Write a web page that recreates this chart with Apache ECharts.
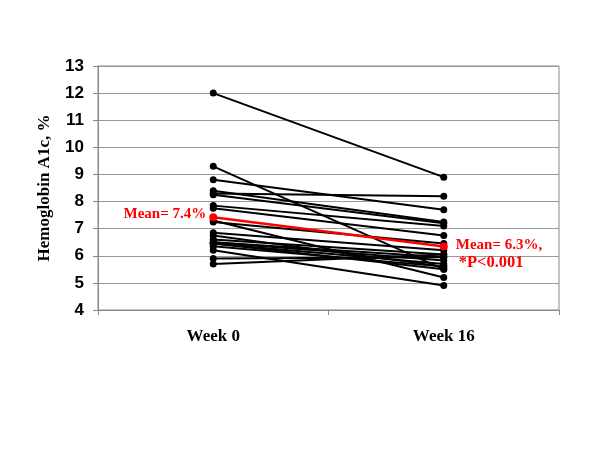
<!DOCTYPE html>
<html>
<head>
<meta charset="utf-8">
<script src="https://cdn.jsdelivr.net/npm/echarts@6/dist/echarts.min.js"></script>
<style>html,body{margin:0;padding:0;background:#fff}#c{width:600px;height:450px}</style>
</head>
<body>
<div id="c"></div>
<script>
const categories = ['Week 0', 'Week 16'];
const week0  = [12.0, 9.3, 8.8, 8.4, 8.3, 8.25, 7.85, 7.75, 7.3, 7.25, 6.85, 6.75, 6.6, 6.5, 6.5, 6.45, 6.45, 6.35, 6.2, 5.9, 5.7];
const week16 = [8.9, 5.5, 7.7, 7.25, 8.2, 7.2, 7.1, 6.75, 5.2, 6.45, 6.2, 5.6, 6.05, 5.83, 5.95, 5.7, 5.5, 5.6, 4.9, 5.95, 6.05];
const meanValues = [7.42, 6.34];
const meanLabels = ['Mean= 7.4%', '{a|Mean= 6.3%,}\n{b|*P<0.001}'];
const yTicks = [4, 5, 6, 7, 8, 9, 10, 11, 12, 13];

const chart = echarts.init(document.getElementById('c'), null, {renderer: 'canvas'});
const series = week0.map((v, i) => ({
  type: 'line',
  data: [v, week16[i]],
  symbol: 'circle',
  symbolSize: 7,
  lineStyle: {color: '#000', width: 2},
  itemStyle: {color: '#000'},
  silent: true,
  animation: false,
  z: 2
}));
const redText = {color: '#ff0000', fontFamily: 'Liberation Serif', fontWeight: 'bold'};
series.push({
  type: 'line',
  data: [
    {value: meanValues[0], label: {show: true, position: 'left', distance: 3, offset: [0, -3], formatter: meanLabels[0], fontSize: 15}},
    {value: meanValues[1], label: {show: true, position: 'right', distance: 8, offset: [0, 7.5], formatter: meanLabels[1],
      rich: {
        a: Object.assign({fontSize: 15, lineHeight: 18}, redText),
        b: Object.assign({fontSize: 16.5, lineHeight: 18, padding: [0, 0, 0, 3]}, redText)
      }}}
  ],
  symbol: 'circle',
  symbolSize: 8,
  lineStyle: {color: '#ff0000', width: 2.5},
  itemStyle: {color: '#ff0000'},
  label: Object.assign({fontSize: 15}, redText),
  animation: false,
  z: 5
});

chart.setOption({
  animation: false,
  grid: {left: 98, right: 41, top: 66, bottom: 140, show: true, borderColor: '#888', borderWidth: 1},
  xAxis: {
    type: 'category',
    data: categories,
    boundaryGap: true,
    axisLine: {lineStyle: {color: '#888', width: 1}},
    axisTick: {show: true, alignWithLabel: false, length: 5, lineStyle: {color: '#888'}},
    axisLabel: {margin: 18, color: '#000', fontFamily: 'Liberation Serif', fontWeight: 'bold', fontSize: 17}
  },
  yAxis: {
    type: 'value',
    min: yTicks[0],
    max: yTicks[yTicks.length - 1],
    interval: 1,
    name: 'Hemoglobin A1c, %',
    nameLocation: 'middle',
    nameGap: 45,
    nameRotate: 90,
    nameTextStyle: {color: '#000', fontFamily: 'Liberation Serif', fontWeight: 'bold', fontSize: 17},
    axisLine: {show: true, lineStyle: {color: '#888', width: 1}},
    axisTick: {show: true, length: 5, lineStyle: {color: '#888'}},
    splitLine: {show: true, lineStyle: {color: '#999', width: 1}},
    axisLabel: {margin: 14, color: '#000', fontFamily: 'Liberation Sans', fontWeight: 'bold', fontSize: 17}
  },
  series: series
});
</script>
</body>
</html>
